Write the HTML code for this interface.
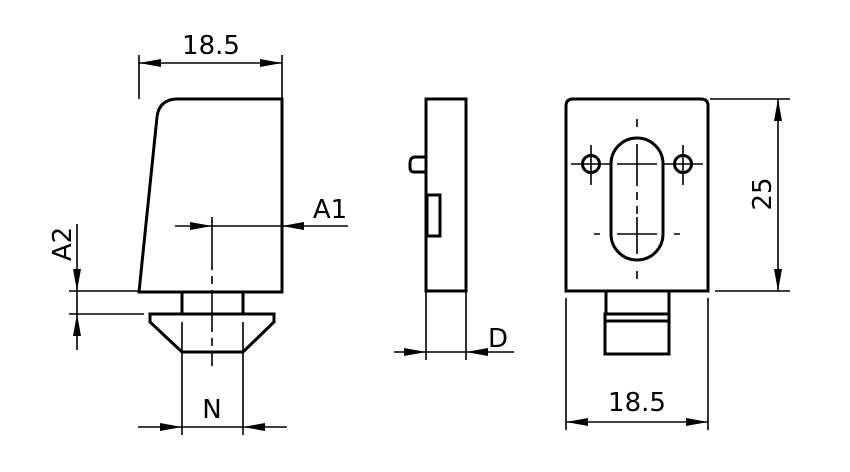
<!DOCTYPE html>
<html><head><style>html,body{margin:0;padding:0;background:#fff}svg{display:block}</style></head>
<body>
<svg width="850" height="472" viewBox="0 0 850 472" xmlns="http://www.w3.org/2000/svg">
<defs>
<marker id="a" viewBox="0 0 22 8" refX="22" refY="4" markerWidth="22" markerHeight="8" markerUnits="userSpaceOnUse" orient="auto-start-reverse"><path d="M0,0 L22,4 L0,8 Z" fill="#000"/></marker>
</defs>
<g fill="none" stroke="#000" stroke-width="3" stroke-linejoin="miter">
<path d="M139,292 L157,117 Q159,100 176,99 L282,99 L282,292 Z"/>
<rect x="182" y="292" width="61" height="22"/>
<path d="M150,314 L274,314 L274,322 L243,352 L182,352 L150,322 Z"/>
<rect x="426" y="99" width="40" height="192"/>
<path d="M426,157 L414,157 Q410,158 410,163 L410,167 Q410,172 414,172 L426,172"/>
<rect x="427" y="195" width="13" height="41"/>
<path d="M566,291 L566,106 Q566,99 573,99 L701,99 Q708,99 708,106 L708,291 Z"/>
<rect x="611" y="138" width="52" height="122" rx="26" ry="26"/>
<circle cx="591" cy="164" r="8.5"/>
<circle cx="683" cy="164" r="8.5"/>
<path d="M606,291 L606,314 M669,291 L669,314"/>
<rect x="605" y="314" width="64" height="40"/>
<line x1="605" y1="321" x2="669" y2="321"/>
</g>
<g fill="none" stroke="#000" stroke-width="1.6">
<path d="M139,55 L139,99 M282,55 L282,99"/>
<line x1="139" y1="63" x2="282" y2="63" marker-start="url(#a)" marker-end="url(#a)"/>
<line x1="175" y1="226" x2="212" y2="226" marker-end="url(#a)"/>
<line x1="348" y1="226" x2="282" y2="226" marker-end="url(#a)"/>
<line x1="212" y1="226" x2="282" y2="226"/>
<path d="M212,217 L212,270 M212,276 L212,284 M212,290 L212,332 M212,338 L212,346 M212,352 L212,366"/>
<path d="M69,291 L139,291 M69,314 L144,314"/>
<line x1="77" y1="224" x2="77" y2="291" marker-end="url(#a)"/>
<line x1="77" y1="350" x2="77" y2="314" marker-end="url(#a)"/>
<line x1="77" y1="291" x2="77" y2="314"/>
<path d="M182,322 L182,435 M243,322 L243,435"/>
<line x1="138" y1="427" x2="182" y2="427" marker-end="url(#a)"/>
<line x1="287" y1="427" x2="243" y2="427" marker-end="url(#a)"/>
<line x1="182" y1="427" x2="243" y2="427"/>
<path d="M426,291 L426,360 M466,291 L466,360"/>
<line x1="394" y1="352" x2="426" y2="352" marker-end="url(#a)"/>
<line x1="514" y1="352" x2="466" y2="352" marker-end="url(#a)"/>
<line x1="426" y1="352" x2="466" y2="352"/>
<path d="M571,164 L611,164 M617,164 L657,164 M663,164 L703,164 M591,145 L591,185 M683,145 L683,185"/>
<path d="M637,119 L637,127 M637,144 L637,186 M637,192 L637,200 M637,206 L637,214 M637,217 L637,254 M637,271 L637,279"/>
<path d="M617,234 L657,234 M594,234 L600,234 M674,234 L680,234"/>
<path d="M710,99 L790,99 M715,291 L790,291"/>
<line x1="778" y1="99" x2="778" y2="291" marker-start="url(#a)" marker-end="url(#a)"/>
<path d="M566,298 L566,430 M708,298 L708,430"/>
<line x1="566" y1="422" x2="708" y2="422" marker-start="url(#a)" marker-end="url(#a)"/>
</g>
<g font-family="'DejaVu Sans','Liberation Sans',sans-serif" font-size="26" fill="#000" text-anchor="middle">
<text x="211" y="54">18.5</text>
<text x="330" y="218">A1</text>
<text x="212" y="418">N</text>
<text x="498" y="347">D</text>
<text x="637" y="411">18.5</text>
<text transform="translate(71,244) rotate(-90)">A2</text>
<text transform="translate(771,194) rotate(-90)">25</text>
</g>
</svg>
</body></html>
